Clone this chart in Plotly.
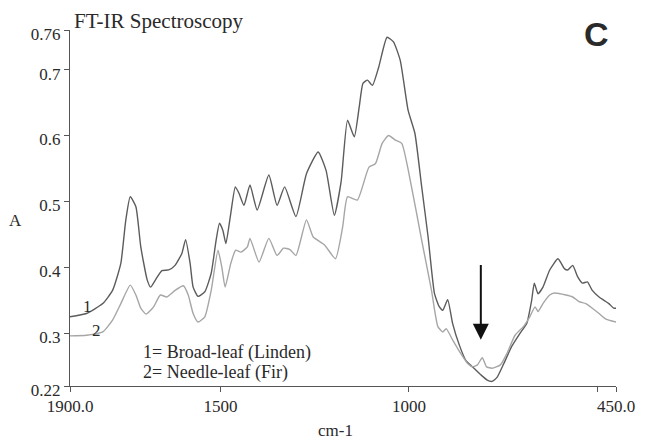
import plotly.graph_objects as go

# Curve 1: broad-leaf (Linden)
wn_1 = [1900, 1856, 1813, 1787, 1765, 1752, 1740, 1725, 1712, 1695, 1686, 1673, 1656, 1638,
        1621, 1603, 1593, 1581, 1573, 1560, 1542, 1525, 1512, 1503, 1494, 1486, 1473, 1461,
        1451, 1438, 1422, 1403, 1372, 1350, 1330, 1300, 1272, 1241, 1220, 1198, 1180, 1163,
        1145, 1132, 1122, 1110, 1097, 1080, 1058, 1041, 1023, 1002, 984, 966, 949, 932, 919,
        910, 897, 884, 866, 849, 831, 809, 792, 779, 766, 748, 727, 705, 687, 674, 667, 657,
        644, 626, 604, 587, 578, 565, 552, 539, 526, 513, 495, 482, 469, 456, 450]
abs_1 = [0.325, 0.330, 0.345, 0.365, 0.406, 0.471, 0.507, 0.492, 0.431, 0.381, 0.370, 0.381,
         0.395, 0.396, 0.403, 0.421, 0.442, 0.406, 0.370, 0.356, 0.363, 0.391, 0.441, 0.467,
         0.456, 0.436, 0.482, 0.522, 0.512, 0.494, 0.525, 0.487, 0.540, 0.494, 0.522, 0.477,
         0.542, 0.575, 0.547, 0.479, 0.530, 0.623, 0.598, 0.643, 0.679, 0.684, 0.676, 0.704,
         0.749, 0.742, 0.714, 0.638, 0.603, 0.522, 0.446, 0.360, 0.340, 0.335, 0.351, 0.315,
         0.282, 0.259, 0.249, 0.237, 0.229, 0.227, 0.233, 0.254, 0.280, 0.300, 0.315, 0.350,
         0.376, 0.360, 0.370, 0.396, 0.413, 0.398, 0.396, 0.403, 0.386, 0.376, 0.378, 0.365,
         0.355, 0.350, 0.345, 0.338, 0.338]

# Curve 2: needle-leaf (Fir)
wn_2 = [1900, 1856, 1813, 1787, 1765, 1740, 1725, 1712, 1698, 1678, 1660, 1643, 1621, 1599,
        1586, 1573, 1560, 1542, 1525, 1507, 1497, 1488, 1473, 1460, 1446, 1429, 1422, 1398,
        1372, 1350, 1333, 1316, 1300, 1272, 1254, 1224, 1195, 1176, 1163, 1137, 1106, 1089,
        1071, 1054, 1036, 1019, 993, 966, 940, 923, 910, 901, 884, 862, 844, 831, 818, 805,
        794, 779, 757, 740, 718, 696, 679, 665, 657, 644, 626, 613, 583, 565, 548, 530, 513,
        495, 478, 450]
abs_2 = [0.296, 0.297, 0.302, 0.320, 0.345, 0.373, 0.358, 0.338, 0.329, 0.340, 0.358, 0.355,
         0.365, 0.372, 0.358, 0.330, 0.317, 0.325, 0.365, 0.426, 0.401, 0.370, 0.406, 0.426,
         0.423, 0.431, 0.444, 0.408, 0.444, 0.418, 0.429, 0.427, 0.418, 0.472, 0.446, 0.434,
         0.413, 0.461, 0.507, 0.502, 0.552, 0.557, 0.588, 0.600, 0.593, 0.588, 0.522, 0.441,
         0.365, 0.310, 0.302, 0.307, 0.290, 0.269, 0.254, 0.249, 0.252, 0.263, 0.249, 0.247,
         0.252, 0.269, 0.297, 0.310, 0.325, 0.340, 0.333, 0.345, 0.358, 0.361, 0.358, 0.355,
         0.348, 0.345, 0.338, 0.330, 0.322, 0.317]

y_ticks = [0.22, 0.3, 0.4, 0.5, 0.6, 0.7, 0.76]
y_tick_text = ["0.22", "0.3", "0.4", "0.5", "0.6", "0.7", "0.76"]
x_ticks = [1900, 1500, 1000, 500, 450]
x_tick_text = ["1900.0", "1500", "1000", "", "450.0"]

# Marked band and its arrow span (absorbance)
arrow_wn = 809
arrow_top, arrow_tip = 0.406, 0.290

SERIF = "Times New Roman, Liberation Serif, serif"
INK = "#2a2a2a"

fig = go.Figure()
fig.add_trace(go.Scatter(x=wn_1, y=abs_1, mode="lines",
                         line=dict(color="#5c5c5c", width=1.4, shape="spline", smoothing=0.5),
                         showlegend=False))
fig.add_trace(go.Scatter(x=wn_2, y=abs_2, mode="lines",
                         line=dict(color="#a6a6a6", width=1.4, shape="spline", smoothing=0.5),
                         showlegend=False))

fig.update_xaxes(range=[1900, 450], tickvals=x_ticks, ticktext=x_tick_text,
                 showgrid=False, zeroline=False, showline=True, linecolor="#555555",
                 linewidth=1, ticks="outside", ticklen=5, tickcolor="#555555",
                 tickfont=dict(family=SERIF, size=17, color=INK))
fig.update_yaxes(range=[0.22, 0.76], tickvals=y_ticks, ticktext=y_tick_text,
                 showgrid=False, zeroline=False, showline=True, linecolor="#555555",
                 linewidth=1, ticks="outside", ticklen=5, tickcolor="#555555",
                 ticklabelshift=4,
                 tickfont=dict(family=SERIF, size=17, color=INK))

def note(text, x, y, size=17, xanchor="center", family=SERIF, bold=False):
    fig.add_annotation(text=f"<b>{text}</b>" if bold else text, x=x, y=y,
                       xref="paper", yref="paper", showarrow=False,
                       xanchor=xanchor, yanchor="middle",
                       font=dict(family=family, size=size, color=INK))

note("FT-IR Spectroscopy", 0.0036, 1.026, size=21, xanchor="left")
note("A", -0.099, 0.466, size=17)
note("cm-1", 0.487, -0.125, size=17)
note("1", 0.0325, 0.224, size=17)
note("2", 0.0487, 0.157, size=17)
note("1= Broad-leaf (Linden)", 0.13, 0.0954, size=18, xanchor="left")
note("2= Needle-leaf (Fir)", 0.13, 0.0393, size=18, xanchor="left")
note("C", 0.964, 0.99, size=34, family="Liberation Sans, Arial, sans-serif", bold=True)

fig.add_annotation(x=arrow_wn, y=arrow_tip, ax=arrow_wn, ay=arrow_top,
                   xref="x", yref="y", axref="x", ayref="y", text="",
                   showarrow=True, arrowhead=2, arrowsize=1.6, arrowwidth=2,
                   arrowcolor="#111111")

fig.update_layout(width=647, height=440, paper_bgcolor="white", plot_bgcolor="white",
                  margin=dict(l=70, r=23, t=29.5, b=54), showlegend=False)

fig.write_html("out.html")
